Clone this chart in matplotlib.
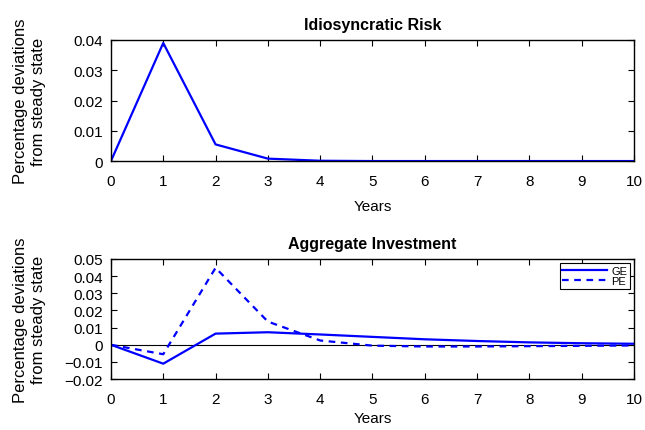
import matplotlib
matplotlib.use("Agg")
import matplotlib.pyplot as plt

plt.rcParams['font.family'] = ['Liberation Sans', 'DejaVu Sans']

years = list(range(11))
idio_risk = [0.0, 0.039, 0.0055, 0.0008, 0.0001, 0.0, 0.0, 0.0, 0.0, 0.0, 0.0]
inv_ge = [0.0, -0.011, 0.0065, 0.0073, 0.006, 0.0046, 0.0032, 0.0022, 0.0014, 0.0009, 0.0006]
inv_pe = [0.0, -0.0055, 0.0448, 0.0135, 0.0025, -0.0005, -0.001, -0.001, -0.0008, -0.0006, -0.0004]

top_ticks = [0, 0.01, 0.02, 0.03, 0.04]
top_labels = ['0', '0.01', '0.02', '0.03', '0.04']
bot_ticks = [-0.02, -0.01, 0, 0.01, 0.02, 0.03, 0.04, 0.05]
bot_labels = ['\u22120.02', '\u22120.01', '0', '0.01', '0.02', '0.03', '0.04', '0.05']

fig = plt.figure(figsize=(6.45, 4.31), dpi=100)
ax1 = fig.add_axes([0.172, 0.624, 0.811, 0.281])
ax2 = fig.add_axes([0.172, 0.118, 0.811, 0.279])


def style(ax, xpad):
    ax.set_xlim(0, 10)
    ax.set_xticks(years)
    ax.tick_params(direction='in', top=True, right=True, labelsize=11, length=4, width=0.8, pad=6)
    ax.tick_params(axis='x', pad=9)
    for s in ax.spines.values():
        s.set_linewidth(1.0)
    ax.set_xlabel('Years', fontsize=11, labelpad=xpad)
    ax.set_ylabel('Percentage deviations\nfrom steady state', fontsize=12)
    ax.yaxis.set_label_coords(-0.125, 0.5)


ax1.plot(years, idio_risk, color='#0000ff', linewidth=1.6)
ax1.set_ylim(0, 0.04)
ax1.set_yticks(top_ticks)
ax1.set_yticklabels(top_labels)
ax1.set_title('Idiosyncratic Risk', fontsize=11.5, fontweight='bold', pad=8)
style(ax1, 8)

ax2.axhline(0, color='black', linewidth=0.8)
ax2.plot(years, inv_ge, color='#0000ff', linewidth=1.6, label='GE')
ax2.plot(years, inv_pe, color='#0000ff', linewidth=1.6, linestyle=(0, (3, 2.5)), label='PE')
ax2.set_ylim(-0.02, 0.05)
ax2.set_yticks(bot_ticks)
ax2.set_yticklabels(bot_labels)
ax2.set_title('Aggregate Investment', fontsize=11.5, fontweight='bold', pad=8)
style(ax2, 4)
leg = ax2.legend(loc='upper right', fontsize=8, fancybox=False, framealpha=1,
                 edgecolor='black', handlelength=4, borderpad=0.25, labelspacing=0.05,
                 handletextpad=0.4, borderaxespad=0.35)
leg.get_frame().set_linewidth(0.8)

fig.savefig('out.png', dpi=100)
